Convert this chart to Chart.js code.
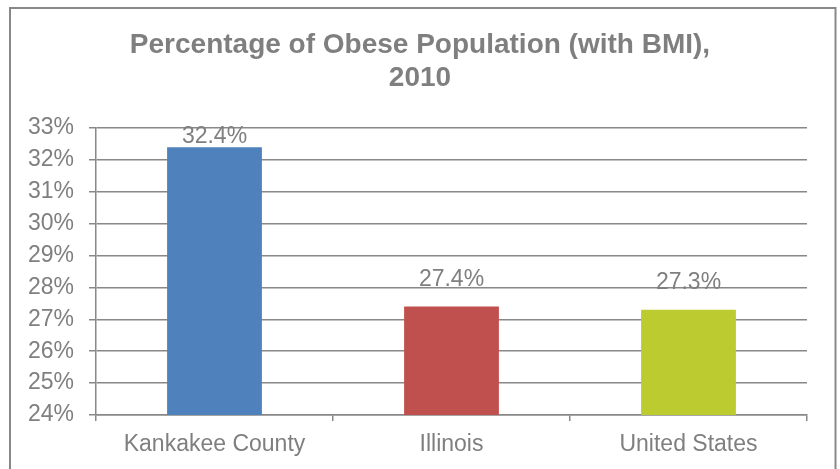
<!DOCTYPE html>
<html>
<head>
<meta charset="utf-8">
<script src="https://cdn.jsdelivr.net/npm/chart.js@4.4.1/dist/chart.umd.min.js"></script>
<style>
  html, body { margin: 0; padding: 0; background: #fff; }
  #wrap { width: 840px; height: 469px; }
</style>
</head>
<body>
<div id="wrap"><canvas id="barChart" width="840" height="469"></canvas></div>
<script>
// data
var categories = ["Kankakee County", "Illinois", "United States"];
var obesePct = [32.4, 27.4, 27.3];
var barColors = ["#4F81BD", "#C0504D", "#BCCB30"];
var titleLines = ["Percentage of Obese Population (with BMI),", "2010"];
var yMin = 24, yMax = 33;

var grey = "#888888";
var textGrey = "#7f7f7f";
Chart.defaults.font.family = "'Liberation Sans', Arial, sans-serif";
Chart.defaults.color = textGrey;

// outer frame like the excel chart border
var framePlugin = {
  id: 'frame',
  afterDraw: function (chart) {
    var c = chart.ctx;
    c.save();
    c.strokeStyle = grey;
    c.lineWidth = 2;
    c.strokeRect(10, 8, 825.5, 480);
    c.restore();
  }
};

// value labels above bars
var labelPlugin = {
  id: 'valueLabels',
  afterDatasetsDraw: function (chart) {
    var c = chart.ctx;
    var area = chart.chartArea;
    var meta = chart.getDatasetMeta(0);
    c.save();
    c.font = "23px 'Liberation Sans', Arial, sans-serif";
    c.fillStyle = textGrey;
    c.textAlign = 'center';
    c.textBaseline = 'alphabetic';
    meta.data.forEach(function (bar, i) {
      var y = bar.y - 21;
      if (y < area.top + 15) y = area.top + 15;
      c.fillText(obesePct[i].toFixed(1) + '%', bar.x, y);
    });
    c.restore();
  }
};

var ctx = document.getElementById("barChart").getContext('2d');
var myBarChart = new Chart(ctx, {
  type: 'bar',
  data: {
    labels: categories,
    datasets: [{
      data: obesePct,
      backgroundColor: barColors,
      borderWidth: 0,
      categoryPercentage: 1.0,
      barPercentage: 0.4
    }]
  },
  options: {
    responsive: false,
    animation: false,
    devicePixelRatio: 1,
    layout: { padding: { left: 5, right: 5, top: 0, bottom: 0 } },
    plugins: {
      legend: { display: false },
      tooltip: { enabled: false },
      title: {
        display: true,
        text: titleLines,
        color: textGrey,
        font: { size: 28, weight: 'bold', lineHeight: 1.18 },
        padding: { top: 28.7, bottom: 33.3 }
      }
    },
    scales: {
      x: {
        offset: true,
        grid: { display: true, drawOnChartArea: false, drawTicks: true, tickLength: 6, color: grey, lineWidth: 1.5 },
        border: { display: true, color: grey, width: 1.5 },
        ticks: { font: { size: 23 }, color: textGrey, padding: 10, maxRotation: 0 },
        afterFit: function (s) { s.height = 54; }
      },
      y: {
        min: yMin,
        max: yMax,
        grid: { color: grey, lineWidth: 1.5, drawTicks: true, tickLength: 7 },
        border: { display: true, color: grey, width: 1.5 },
        ticks: {
          stepSize: 1,
          font: { size: 23 },
          color: textGrey,
          padding: 15,
          callback: function (v) { return v + '%'; }
        },
        afterFit: function (s) { s.width = 91; }
      },
      spacer: {
        type: 'linear',
        position: 'right',
        display: true,
        grid: { display: false, drawTicks: false },
        border: { display: false },
        ticks: { display: false },
        afterFit: function (s) { s.width = 28; }
      }
    }
  },
  plugins: [framePlugin, labelPlugin]
});
</script>
</body>
</html>
